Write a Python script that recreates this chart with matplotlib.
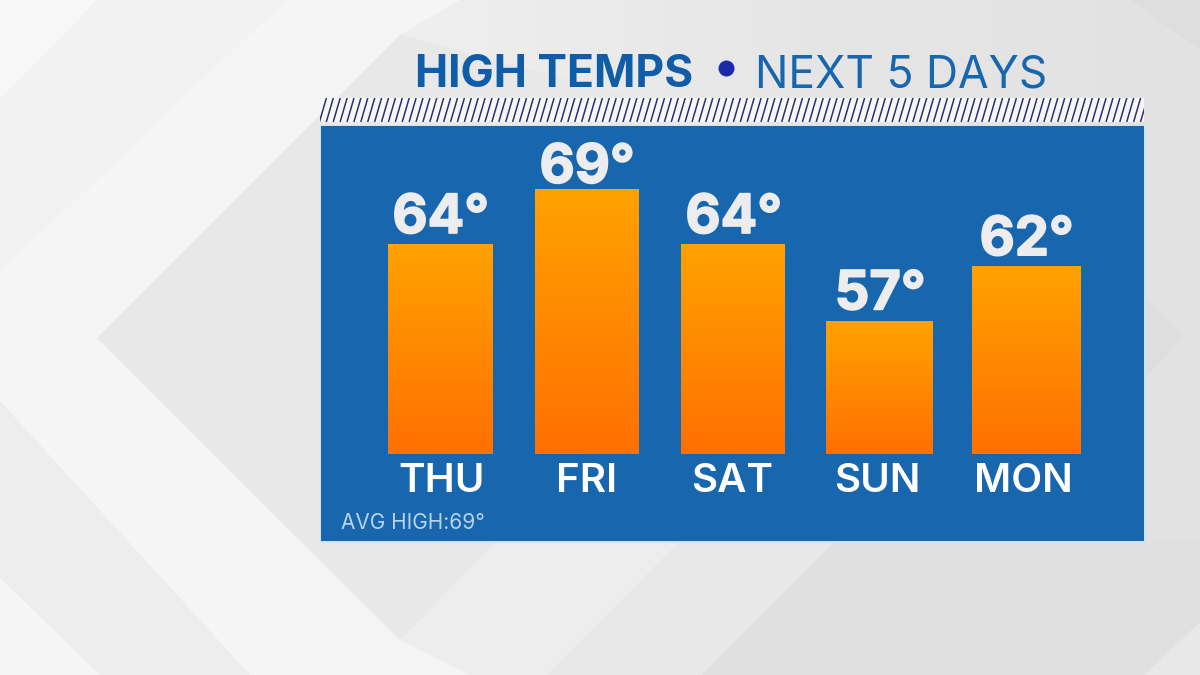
import numpy as np
import matplotlib
matplotlib.use("Agg")
import matplotlib.pyplot as plt
import matplotlib.patheffects as pe
from matplotlib.patches import Polygon, Rectangle
from matplotlib.colors import LinearSegmentedColormap

days = ["THU", "FRI", "SAT", "SUN", "MON"]
highs = [64, 69, 64, 57, 62]
avg_high = 69
title_left = "HIGH TEMPS"
title_right = "NEXT 5 DAYS"

W, H = 1200, 675
BLUE = "#1766AE"
FONT = "Inter"

fig = plt.figure(figsize=(12, 6.75), dpi=100)
bg = fig.add_axes([0, 0, 1, 1])
bg.set_xlim(0, W); bg.set_ylim(H, 0); bg.axis("off")

# soft left-to-right background
bg_cmap = LinearSegmentedColormap.from_list("bg", ["#F7F7F7", "#EFEFEF", "#E6E6E6", "#E2E2E2"])
bg.imshow(np.linspace(0, 1, 256).reshape(1, -1), cmap=bg_cmap, aspect="auto",
          extent=(0, W, H, 0), zorder=0)
bg.set_xlim(0, W); bg.set_ylim(H, 0)

shapes = [
    ([(0, 0), (97, 0), (0, 99)], "#F8F8F8"),
    ([(97, 0), (286, 0), (0, 272), (0, 99)], "#F2F2F2"),
    ([(286, 0), (460, 0), (400, 35), (97, 338), (400, 640), (470, 675), (250, 675), (0, 401), (0, 272)], "#F5F5F5"),
    ([(400, 35), (97, 338), (400, 640), (560, 500), (760, 130)], "#E8E8E8"),
    ([(0, 401), (250, 675), (100, 675), (0, 578)], "#EDEDED"),
    ([(0, 578), (100, 675), (0, 675)], "#F5F5F5"),
    ([(400, 640), (470, 675), (547, 675), (679, 542), (495, 542)], "#EDEDED"),
    ([(679, 542), (547, 675), (702, 675), (834, 542)], "#E8E8E8"),
    ([(834, 542), (702, 675), (1144, 675), (1200, 622), (1200, 542)], "#E0E0E0"),
    ([(1200, 622), (1144, 675), (1200, 675)], "#E8E8E8"),
    ([(1130, 0), (1200, 0), (1200, 50)], "#DEDEDE"),
    ([(1147, 300), (1183, 337), (1147, 377)], "#DEDEDE"),
]
for pts, c in shapes:
    bg.add_patch(Polygon(pts, closed=True, color=c, lw=0, zorder=1))

# hatched band above the panel
bg.add_patch(Rectangle((320, 98), 824, 24, color="#F7F7FA", lw=0, zorder=2))
band = Rectangle((320, 98), 824, 24, fill=False, lw=0, zorder=3)
bg.add_patch(band)
for x0 in np.arange(316, 1160, 6.9):
    line, = bg.plot([x0 - 3.5, x0 + 3.5], [122, 98], color="#2E2F6B", lw=1.1, zorder=3,
                    solid_capstyle="butt")
    line.set_clip_path(band)

# panel rim
bg.add_patch(Rectangle((320, 125), 826, 418, color="#CFE3F2", lw=0, zorder=2))

# title
bg.text(693, 87, title_left, ha="right", va="baseline", fontsize=32, fontweight="bold",
        family=FONT, color="#0F5CA8", zorder=5)
bg.plot([725.5], [68], "o", ms=11.5, color="#1B2AA8", mew=0, zorder=5)
bg.text(755, 87, title_right, ha="left", va="baseline", fontsize=32, family=FONT,
        color="#1766AE", zorder=5)

# panel: x in day index, y in degrees
px_per_day = 146.5
px_per_deg = 11.05
x_center0 = 440
base_px = 454
ax = fig.add_axes([321 / W, 1 - 541 / H, (1144 - 321) / W, (541 - 126) / H])
xlim = ((321 - x_center0) / px_per_day, (1144 - x_center0) / px_per_day)
ylim = (45 - (541 - base_px) / px_per_deg, 45 + (base_px - 126) / px_per_deg)
ax.set_facecolor(BLUE)
for s in ax.spines.values():
    s.set_visible(False)
ax.set_xticks([]); ax.set_yticks([])

bar_widths = [0.71, 0.705, 0.705, 0.725, 0.74]
label_gap_px = [11, 6, 11, 12, 11]
day_dx_px = [1.5, 0, -1, -2.5, -3]
cmap = LinearSegmentedColormap.from_list("heat", ["#FF7000", "#FFA200"])
grad = np.linspace(0, 1, 256).reshape(-1, 1)
xs = np.arange(len(days))
bars = ax.bar(xs, np.array(highs) - 45, bottom=45, width=bar_widths, color="#FF8800", lw=0, zorder=2)
for b, v, d, x, gap, dx in zip(bars, highs, days, xs, label_gap_px, day_dx_px):
    im = ax.imshow(grad, origin="lower", aspect="auto", cmap=cmap, zorder=3,
                   extent=(b.get_x(), b.get_x() + b.get_width(), 45, v))
    im.set_clip_path(b)
    ax.text(x + 0.005, v + gap / px_per_deg, f"{v}°", ha="center", va="baseline", fontsize=39,
            fontweight="bold", family=FONT, color="#EDEDEF", zorder=4,
            path_effects=[pe.withStroke(linewidth=1.2, foreground="#EDEDEF")])
    ax.text(x + dx / px_per_day, 41.56, d, ha="center", va="baseline", fontsize=29,
            fontweight="semibold", family=FONT, color="#FFFFFF", zorder=4)
ax.set_xlim(*xlim)
ax.set_ylim(*ylim)
ax.text(341, 529, f"AVG HIGH:{avg_high}°", transform=bg.transData, ha="left", va="baseline",
        fontsize=15, family=FONT, color="#B9D4EA", zorder=4)

fig.savefig("out.png", dpi=100)
